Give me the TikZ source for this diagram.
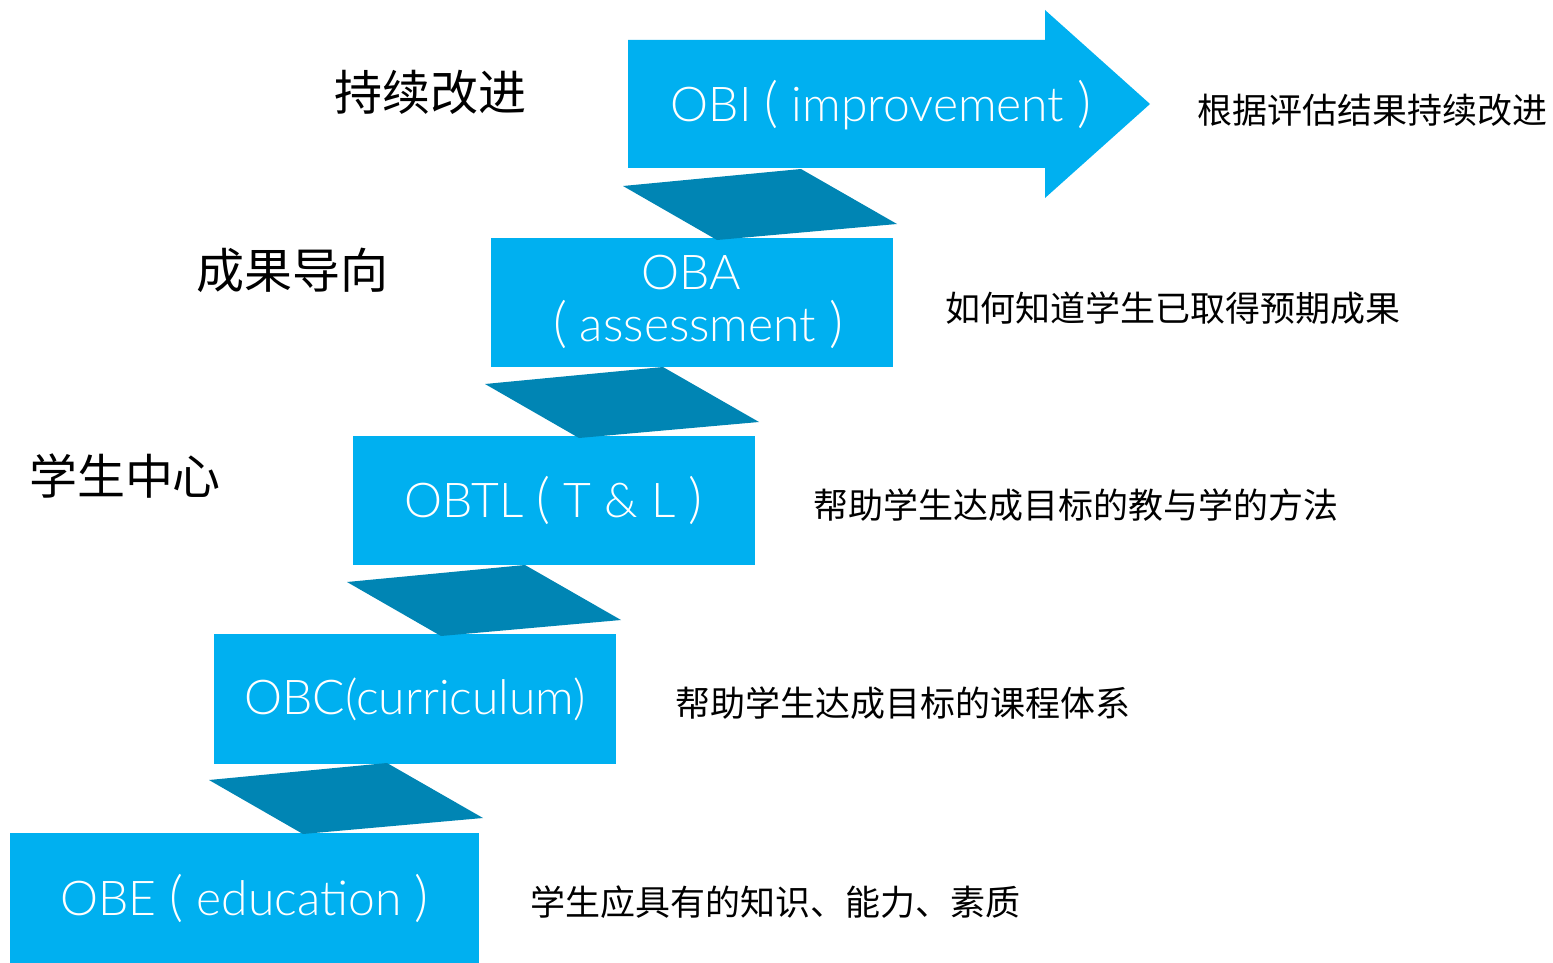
\documentclass[tikz,border=0pt]{standalone}
\usepackage{fontspec}
\setmainfont{Noto Sans CJK SC}
\newfontfamily\engfont{Lato Light}
\definecolor{stepblue}{HTML}{00B0F0}
\definecolor{stepdark}{HTML}{0085B4}
\newcommand\stepopen{\ {\fontsize{27}{27}\selectfont(}\ }
\newcommand\stepclose{\ {\fontsize{27}{27}\selectfont)}}

\tikzset{
  stepbox/.style={rectangle, fill=stepblue, text=white, inner sep=0pt,
    minimum width=201pt, minimum height=64.5pt, align=center,
    font=\engfont\fontsize{24}{27}\selectfont},
  levellabel/.style={font=\fontsize{24}{27}\selectfont},
  notelabel/.style={anchor=west, inner sep=0pt, font=\fontsize{17.5}{20}\selectfont}
}

\begin{document}
\begin{tikzpicture}[x=0.5pt,y=-0.5pt]
\useasboundingbox (0,0) rectangle (1553,963);

    \node (obe) at (244.5,898) [stepbox, minimum width=234.5pt, minimum height=65pt] {OBE\stepopen education\stepclose};
    \node (obc) at (415,699) [stepbox, minimum height=65pt] {OBC(curriculum)};
    \node (obtl) at (553.5,500) [stepbox] {OBTL\stepopen T \& L\stepclose};
    \node (oba) at (691.5,302) [stepbox] {OBA\\[-1pt]\stepopen assessment\stepclose};

    \fill[stepblue] (628,40) -- (1045,40) -- (1045,10) -- (1150,104)
        -- (1045,198) -- (1045,168) -- (628,168) -- cycle;
    \node (obi) at (881,105) [stepbox, fill=none, minimum width=0pt] {OBI\stepopen improvement\stepclose};

    % steps between the levels
    \foreach \i in {0,...,3}
        \fill[stepdark, shift={(138*\i,-198*\i)}] (209,780) -- (387,763) -- (483,818) -- (303,834) -- cycle;

    \node (lvl1) at (430,92) [levellabel] {持续改进};
    \node (lvl2) at (292,270) [levellabel] {成果导向};
    \node (lvl3) at (125,476) [levellabel] {学生中心};

    \node (n1) at (1197,110) [notelabel] {根据评估结果持续改进};
    \node (n2) at (945,308) [notelabel] {如何知道学生已取得预期成果};
    \node (n3) at (813,505) [notelabel] {帮助学生达成目标的教与学的方法};
    \node (n4) at (675,703) [notelabel] {帮助学生达成目标的课程体系};
    \node (n5) at (530,902) [notelabel] {学生应具有的知识、能力、素质};

\end{tikzpicture}
\end{document}
